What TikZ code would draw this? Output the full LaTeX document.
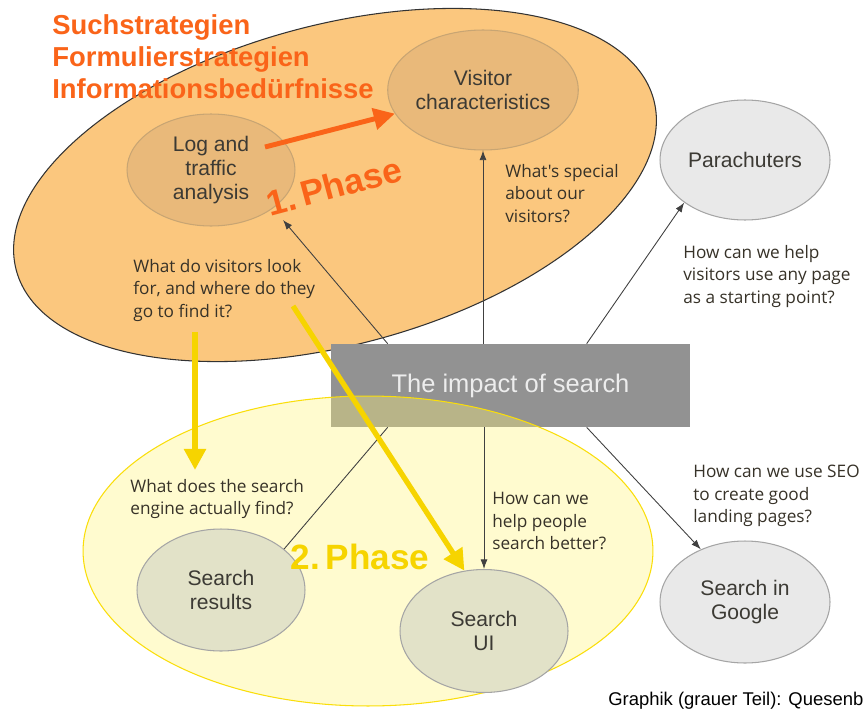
\documentclass[tikz,border=0pt]{standalone}
\usepackage{fontspec}
\setmainfont{Liberation Sans}
\newfontfamily\handfont{Open Sans}
\usetikzlibrary{shapes.geometric, arrows.meta, positioning, calc}
\definecolor{phaseorange}{RGB}{250, 100, 25}
\definecolor{orangefill}{RGB}{251, 199, 126}
\definecolor{tanfill}{RGB}{233, 185, 122}
\definecolor{tanline}{RGB}{200, 165, 115}
\definecolor{phaseyellow}{RGB}{246, 212, 0}
\definecolor{yellowfill}{RGB}{255, 245, 120}
\definecolor{yellowline}{RGB}{250, 222, 10}
\definecolor{olivefill}{RGB}{226, 226, 200}
\definecolor{greyfill}{RGB}{233, 233, 233}
\definecolor{greyline}{RGB}{165, 165, 165}
\definecolor{impactgrey}{RGB}{146, 146, 146}
\definecolor{handgrey}{RGB}{55, 50, 40}
\definecolor{labelgrey}{RGB}{60, 58, 52}
\tikzset{
  topic/.style={ellipse, inner sep=0pt, align=center, line width=0.6pt,
                font=\fontsize{12}{13.6}\selectfont, text=labelgrey},
  tantopic/.style={topic, fill=tanfill, draw=tanline},
  greytopic/.style={topic, fill=greyfill, draw=greyline},
  olivetopic/.style={topic, fill=olivefill, draw=greyline},
  question/.style={anchor=north west, inner sep=0pt, align=left, text=handgrey,
                   font=\handfont\fontsize{9.8}{12.8}\selectfont},
  link/.style={-{Latex[length=5.5pt, width=4pt]}, line width=0.5pt, draw=black!75},
  bigarrow/.style={-{Triangle[length=12pt, width=12pt]}, line width=3pt, draw=#1},
  phaselabel/.style={font=\bfseries\fontsize{20}{24}\selectfont, text=#1, inner sep=0pt},
}

\begin{document}
\begin{tikzpicture}[x=0.02cm, y=-0.02cm]
  \fill[white] (0,0) rectangle (865,713);
  \useasboundingbox (0,0) rectangle (865,713);

  % phase 1 area
  \node[ellipse, draw=black!80, line width=0.6pt, fill=orangefill, rotate=15,
        minimum width=13.2cm, minimum height=6.4cm] (phase1) at (335,185) {};
  \node[tantopic, minimum width=3.36cm, minimum height=2.24cm] (logan) at (211,170)
       {Log and\\traffic\\analysis};
  \node[tantopic, minimum width=3.8cm, minimum height=2.4cm] (visitor) at (483,90)
       {Visitor\\characteristics};

  % central box
  \node[rectangle, fill=impactgrey, minimum width=7.18cm, minimum height=1.66cm,
        text=white!93!black, font=\fontsize{14.5}{17}\selectfont] (impact) at (510.5,385.5)
       {The impact of search};

  % phase 2 area
  \node[ellipse, draw=yellowline, line width=0.6pt, fill=yellowfill, fill opacity=0.35,
        minimum width=11.4cm, minimum height=6.2cm] (phase2) at (368,551) {};
  \node[olivetopic, minimum width=3.36cm, minimum height=2.44cm] (results) at (221,590)
       {Search\\results};
  \node[olivetopic, minimum width=3.36cm, minimum height=2.46cm] (ui) at (484,631)
       {Search\\UI};

  % outside
  \node[greytopic, minimum width=3.4cm, minimum height=2.4cm] (para) at (745,160)
       {Parachuters};
  \node[greytopic, minimum width=3.4cm, minimum height=2.44cm] (google) at (745,602)
       {Search in\\Google};

  % questions
  \node[question] (qspecial) at (505,164) {What's special\\about our\\visitors?};
  \node[question] (qpage) at (683,245) {How can we help\\visitors use any page\\as a starting point?};
  \node[question] (qlook) at (133,259) {What do visitors look\\for, and where do they\\go to find it?};
  \node[question] (qengine) at (130,479) {What does the search\\engine actually find?};
  \node[question] (qbetter) at (492,492) {How can we\\help people\\search better?};
  \node[question] (qseo) at (693,465) {How can we use SEO\\to create good\\landing pages?};

  % links from the box
  \draw[link] ($(impact.north west)+(57,0)$) -- ([shift={(72,50)}]logan.center);
  \draw[link] (impact.north -| visitor.south) -- (visitor.south);
  \draw[link] ($(impact.north west)+(256,0)$) -- (para.215);
  \draw[line width=0.5pt, draw=black!75] ($(impact.south west)+(57,0)$) -- (results.33);
  \draw[link] (impact.south -| ui.north) -- (ui.north);
  \draw[link] ($(impact.south west)+(256,0)$) -- (google.130);

  % strategy headings
  \node[anchor=north west, inner sep=0pt, align=left, text=phaseorange,
        font=\bfseries\fontsize{15.6}{18.4}\selectfont] (strat) at (52,14)
       {Suchstrategien\\Formulierstrategien\\Informationsbedürfnisse};

  % thick arrows
  \draw[bigarrow=phaseorange, line width=2.8pt] ([shift={(54,-23)}]logan.center) -- (visitor.195);
  \draw[bigarrow=phaseyellow] ([shift={(62,10)}]qlook.south west) -- ([shift={(65,-9)}]qengine.north west);
  \draw[bigarrow=phaseyellow] ([shift={(160,47)}]qlook.north west) -- (ui.108);

  % phase labels
  \node[phaselabel=phaseorange, rotate=15] (ph1) at (334,186) {1.\,Phase};
  \node[phaselabel=phaseyellow] (ph2) at (360,557) {2.\,Phase};

  \node[anchor=base west, inner sep=0pt, font=\fontsize{10.5}{12}\selectfont] (credit) at (608,705)
       {Graphik (grauer Teil): Quesenb};
\end{tikzpicture}
\end{document}
